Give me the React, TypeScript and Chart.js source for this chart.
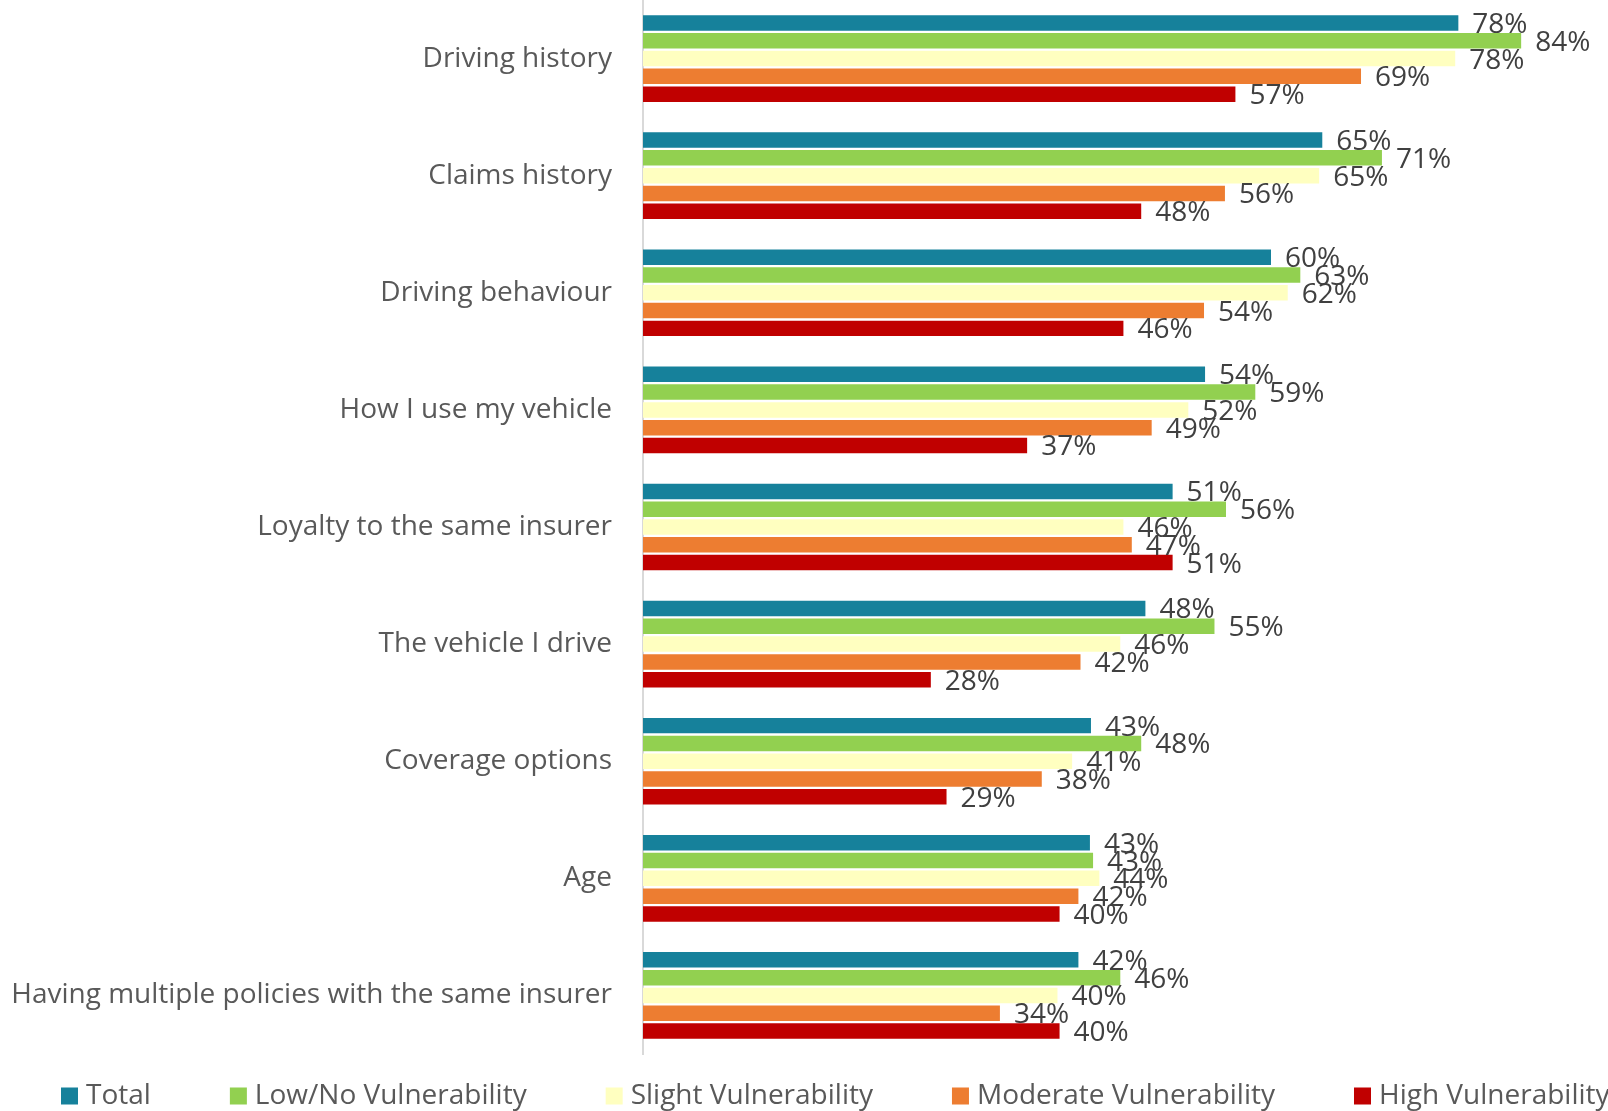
import React, { useEffect, useRef } from "react";
import { Chart, registerables } from "chart.js";

Chart.register(...registerables);

const categories = [
  "Driving history",
  "Claims history",
  "Driving behaviour",
  "How I use my vehicle",
  "Loyalty to the same insurer",
  "The vehicle I drive",
  "Coverage options",
  "Age",
  "Having multiple policies with the same insurer",
];

const seriesNames = [
  "Total",
  "Low/No Vulnerability",
  "Slight Vulnerability",
  "Moderate Vulnerability",
  "High Vulnerability",
];

const totalValues = [77.9, 64.9, 60.0, 53.7, 50.6, 48.0, 42.8, 42.7, 41.6];
const lowValues = [83.9, 70.6, 62.8, 58.5, 55.7, 54.6, 47.6, 43.0, 45.6];
const slightValues = [77.6, 64.6, 61.6, 52.1, 45.9, 45.6, 41.0, 43.6, 39.6];
const moderateValues = [68.6, 55.6, 53.6, 48.6, 46.7, 41.8, 38.1, 41.6, 34.1];
const highValues = [56.6, 47.6, 45.9, 36.7, 50.6, 27.5, 29.0, 39.8, 39.8];

const seriesColors = ["#16819B", "#92D050", "#FFFFC0", "#ED7D31", "#C00000"];

const xMax = 90;
const FONT = "'Open Sans', 'Noto Sans', sans-serif";
const FONT_SIZE = 28;

const dataLabelPlugin = {
  id: "dataLabels",
  afterDatasetsDraw(chart: any) {
    const ctx = chart.ctx;
    ctx.save();
    ctx.font = `${FONT_SIZE}px ${FONT}`;
    ctx.fillStyle = "#404040";
    ctx.textAlign = "left";
    ctx.textBaseline = "middle";
    chart.data.datasets.forEach((ds: any, di: number) => {
      const meta = chart.getDatasetMeta(di);
      meta.data.forEach((el: any, i: number) => {
        const v = ds.data[i];
        ctx.fillText(`${Math.round(v)}%`, el.x + 14, el.y + 2);
      });
    });
    ctx.restore();
  },
};

const customLegendPlugin = {
  id: "customLegend",
  afterDraw(chart: any) {
    const ctx = chart.ctx;
    ctx.save();
    ctx.font = `${FONT_SIZE}px ${FONT}`;
    ctx.textAlign = "left";
    ctx.textBaseline = "middle";
    let x = 61;
    const cy = 1096;
    const box = 17;
    chart.data.datasets.forEach((ds: any) => {
      ctx.fillStyle = ds.backgroundColor;
      ctx.fillRect(x, cy - box / 2, box, box);
      ctx.fillStyle = "#595959";
      const tx = x + 25;
      ctx.fillText(ds.label, tx, cy);
      const w = ctx.measureText(ds.label).width;
      x = tx + w + 79;
    });
    ctx.restore();
  },
};

export default function App() {
  const ref = useRef<HTMLCanvasElement | null>(null);

  useEffect(() => {
    const canvas = ref.current;
    if (!canvas) return;
    const valueSets = [totalValues, lowValues, slightValues, moderateValues, highValues];
    const chart = new Chart(canvas, {
      type: "bar",
      data: {
        labels: categories,
        datasets: seriesNames.map((name, i) => ({
          label: name,
          data: valueSets[i],
          backgroundColor: seriesColors[i],
          borderWidth: 0,
          barPercentage: 0.87,
          categoryPercentage: 0.76,
        })),
      },
      options: {
        indexAxis: "y",
        responsive: false,
        maintainAspectRatio: false,
        animation: false,
        layout: { padding: { top: 0, right: 23, bottom: 57, left: 0 } },
        plugins: {
          legend: { display: false },
          tooltip: { enabled: false },
        },
        scales: {
          x: {
            display: false,
            min: 0,
            max: xMax,
          },
          y: {
            grid: { display: false, drawTicks: false },
            border: { display: true, color: "#d9d9d9", width: 2 },
            ticks: {
              padding: 31,
              color: "#595959",
              font: { family: FONT, size: FONT_SIZE },
              autoSkip: false,
            },
            afterFit(scale: any) {
              scale.width = 643;
              scale.paddingTop = 0;
              scale.paddingBottom = 0;
            },
          },
        },
      },
      plugins: [dataLabelPlugin, customLegendPlugin],
    } as any);
    return () => chart.destroy();
  }, []);

  return (
    <div style={{ position: "fixed", left: 0, top: 0, width: 1608, height: 1111, background: "#fff" }}>
      <canvas ref={ref} width={1608} height={1111} style={{ display: "block" }} />
    </div>
  );
}
